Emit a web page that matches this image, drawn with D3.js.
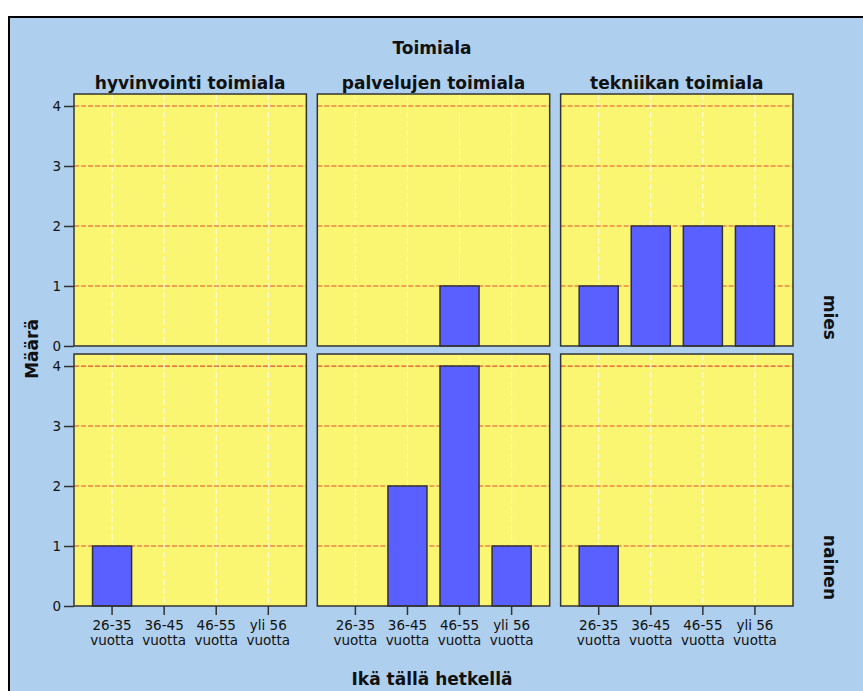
<!DOCTYPE html>
<html>
<head>
<meta charset="utf-8">
<script src="https://cdn.jsdelivr.net/npm/d3@7"></script>
<style>
  html, body { margin: 0; padding: 0; background: #fff; overflow: hidden; }
  text { font-family: "DejaVu Sans", Verdana, sans-serif; fill: #111; }
  .title { font-weight: bold; font-size: 17px; }
  .tick-label { font-size: 13.5px; }
</style>
</head>
<body>
<svg id="chart"></svg>
<script>
// chart data
const industries = ['hyvinvointi toimiala', 'palvelujen toimiala', 'tekniikan toimiala'];
const genders = ['mies', 'nainen'];
const ageGroups = ['26-35 vuotta', '36-45 vuotta', '46-55 vuotta', 'yli 56 vuotta'];
const miesCounts = [[0, 0, 0, 0], [0, 0, 1, 0], [1, 2, 2, 2]];
const nainenCounts = [[1, 0, 0, 0], [0, 2, 4, 1], [1, 0, 0, 0]];
const yTicks = [0, 1, 2, 3, 4];

const countsByGender = { mies: miesCounts, nainen: nainenCounts };

const width = 863;
const height = 691;
const colors = {
  bg: '#aecfee',
  panel: '#fbf672',
  bar: '#5a60ff',
  stroke: '#333',
  grid: '#ea4a34',
};

const svg = d3.select('#chart')
  .attr('width', width)
  .attr('height', height);

// outer frame (clipped by the window on right / bottom)
svg.append('rect')
  .attr('x', 9).attr('y', 17)
  .attr('width', 870).attr('height', 700)
  .attr('fill', colors.bg)
  .attr('stroke', '#000')
  .attr('stroke-width', 2);

const colScale = d3.scaleBand()
  .domain(industries)
  .range([74, 793])
  .paddingInner(0.045);

const rowScale = d3.scaleBand()
  .domain(genders)
  .range([94, 606])
  .paddingInner(0.031);

// titles
svg.append('text')
  .attr('class', 'title')
  .attr('x', 432).attr('y', 54)
  .attr('text-anchor', 'middle')
  .text('Toimiala');

svg.append('text')
  .attr('class', 'title')
  .attr('x', 432).attr('y', 685)
  .attr('text-anchor', 'middle')
  .text('Ikä tällä hetkellä');

svg.append('text')
  .attr('class', 'title')
  .attr('transform', 'translate(38,349) rotate(-90)')
  .attr('text-anchor', 'middle')
  .text('Määrä');

industries.forEach((ind) => {
  svg.append('text')
    .attr('class', 'title')
    .attr('x', colScale(ind) + colScale.bandwidth() / 2)
    .attr('y', 89)
    .attr('text-anchor', 'middle')
    .text(ind);
});

genders.forEach((g) => {
  const bottom = rowScale(g) + rowScale.bandwidth();
  svg.append('text')
    .attr('class', 'title')
    .attr('transform', `translate(824,${bottom - 6}) rotate(90)`)
    .attr('text-anchor', 'end')
    .text(g);
});

genders.forEach((g, gi) => {
  const top = rowScale(g);
  const bottom = top + rowScale.bandwidth();
  const y = d3.scaleLinear().domain([0, 4.2]).range([bottom, top]);

  industries.forEach((ind, ii) => {
    const left = colScale(ind);
    const pw = colScale.bandwidth();
    const x = d3.scaleBand()
      .domain(ageGroups)
      .range([left, left + pw])
      .paddingInner(0.25)
      .paddingOuter(0.356);

    const panel = svg.append('g');

    panel.append('rect')
      .attr('x', left).attr('y', top)
      .attr('width', pw).attr('height', bottom - top)
      .attr('fill', colors.panel);

    // vertical white gridlines
    panel.selectAll('.vgrid')
      .data(ageGroups)
      .enter()
      .append('line')
      .attr('x1', (d) => x(d) + x.bandwidth() / 2)
      .attr('x2', (d) => x(d) + x.bandwidth() / 2)
      .attr('y1', top)
      .attr('y2', bottom)
      .attr('stroke', '#fff')
      .attr('stroke-opacity', 0.85)
      .attr('stroke-dasharray', '6,3');

    // horizontal red gridlines
    panel.selectAll('.hgrid')
      .data(yTicks.filter((t) => t > 0))
      .enter()
      .append('line')
      .attr('x1', left)
      .attr('x2', left + pw)
      .attr('y1', (d) => y(d))
      .attr('y2', (d) => y(d))
      .attr('stroke', colors.grid)
      .attr('stroke-width', 1.2)
      .attr('stroke-dasharray', '5,2');

    const vals = countsByGender[g][ii];
    panel.selectAll('.bar')
      .data(ageGroups.map((a, i) => ({ a, v: vals[i] })).filter((d) => d.v > 0))
      .enter()
      .append('rect')
      .attr('x', (d) => x(d.a))
      .attr('y', (d) => y(d.v))
      .attr('width', x.bandwidth())
      .attr('height', (d) => y(0) - y(d.v))
      .attr('fill', colors.bar)
      .attr('stroke', colors.stroke)
      .attr('stroke-width', 1.5);

    panel.append('rect')
      .attr('x', left).attr('y', top)
      .attr('width', pw).attr('height', bottom - top)
      .attr('fill', 'none')
      .attr('stroke', colors.stroke)
      .attr('stroke-width', 1.5);

    // y axis on the left column
    if (ii === 0) {
      const yAxis = svg.append('g')
        .attr('transform', `translate(${left},0)`)
        .call(d3.axisLeft(y).tickValues(yTicks).tickSize(10).tickPadding(3).tickFormat(d3.format('d')));
      yAxis.select('.domain').remove();
      yAxis.selectAll('line').attr('stroke', colors.stroke).attr('stroke-width', 1.5);
      yAxis.selectAll('text').attr('class', 'tick-label').style('font-size', '13.5px').attr('fill', '#111');
    }

    // x axis on the bottom row
    if (gi === genders.length - 1) {
      const xAxis = svg.append('g')
        .attr('transform', `translate(0,${bottom})`)
        .call(d3.axisBottom(x).tickSize(9).tickFormat(''));
      xAxis.select('.domain').remove();
      xAxis.selectAll('line').attr('stroke', colors.stroke).attr('stroke-width', 1.5);
      xAxis.selectAll('.tick')
        .append('text')
        .attr('class', 'tick-label')
        .attr('text-anchor', 'middle')
        .attr('fill', '#111')
        .selectAll('tspan')
        .data((d) => {
          const parts = d.split(' ');
          return [parts[0] === 'yli' ? 'yli ' + parts[1] : parts[0], parts[parts.length - 1]];
        })
        .enter()
        .append('tspan')
        .attr('x', 0)
        .attr('y', (d, i) => 24 + i * 15)
        .text((d) => d);
    }
  });
});
</script>
</body>
</html>
